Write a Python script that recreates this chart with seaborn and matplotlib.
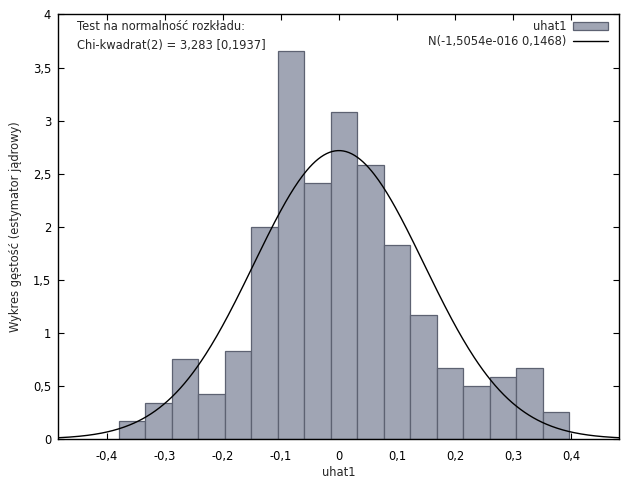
import numpy as np
import pandas as pd
import matplotlib
matplotlib.use("Agg")
import matplotlib.pyplot as plt
import seaborn as sns
from matplotlib.patches import Patch
from matplotlib.lines import Line2D

# ---- data ----
bin_start = -0.3793
bin_width = 0.0457
densities = [0.17, 0.34, 0.75, 0.42, 0.83, 2.00, 3.66, 2.41, 3.08, 2.58,
             1.83, 1.17, 0.67, 0.50, 0.58, 0.67, 0.25]
norm_mean = -1.5054e-16
norm_sd = 0.1468
x_ticks = [-0.4, -0.3, -0.2, -0.1, 0.0, 0.1, 0.2, 0.3, 0.4]
x_tick_labels = ["-0,4", "-0,3", "-0,2", "-0,1", "0", "0,1", "0,2", "0,3", "0,4"]
y_ticks = [0, 0.5, 1, 1.5, 2, 2.5, 3, 3.5, 4]
y_tick_labels = ["0", "0,5", "1", "1,5", "2", "2,5", "3", "3,5", "4"]
legend_labels = ["uhat1", "N(-1,5054e-016 0,1468)"]
annotation = "Test na normalność rozkładu:\nChi-kwadrat(2) = 3,283 [0,1937]"
xlabel = "uhat1"
ylabel = "Wykres gęstość (estymator jądrowy)"

sns.set_style("white")
plt.rcParams['font.family'] = ['DejaVu Sans']

n = len(densities)
edges = [float(bin_start + bin_width * i) for i in range(n + 1)]
centers = [(edges[i] + edges[i + 1]) / 2 for i in range(n)]
df = pd.DataFrame({"x": centers, "w": densities})

xlim = (-0.4845, 0.483)
fs = 8.3

fig = plt.figure(figsize=(6.4, 4.8), dpi=100)
ax = fig.add_axes([0.0906, 0.0854, 0.8766, 0.8844])

bar_face = "#a0a5b4"
bar_edge = "#5d6272"
sns.histplot(data=df, x="x", weights="w", bins=edges, stat="count",
             color=bar_face, edgecolor=bar_edge, linewidth=0.9, alpha=1.0, ax=ax)

xs = np.linspace(xlim[0], xlim[1], 400)
pdf = np.exp(-0.5 * ((xs - norm_mean) / norm_sd) ** 2) / (norm_sd * np.sqrt(2 * np.pi))
sns.lineplot(x=xs, y=pdf, color="black", linewidth=1.0, ax=ax)

ax.set_xlim(*xlim)
ax.set_ylim(0, 4)
ax.set_xticks(x_ticks)
ax.set_xticklabels(x_tick_labels)
ax.set_yticks(y_ticks)
ax.set_yticklabels(y_tick_labels)
ax.tick_params(direction="in", length=4, width=0.8, labelsize=fs,
               top=True, right=True, bottom=True, left=True, pad=8, colors="black")
ax.tick_params(axis="y", pad=5)
for s in ax.spines.values():
    s.set_color("black")
    s.set_linewidth(1.0)

ax.set_xlabel(xlabel, fontsize=fs, labelpad=2)
ax.set_ylabel(ylabel, fontsize=fs, labelpad=8)

ax.text(0.034, 0.986, annotation, transform=ax.transAxes, fontsize=fs,
        va="top", ha="left", linespacing=1.55)

handles = [Patch(facecolor=bar_face, edgecolor=bar_edge, linewidth=0.9),
           Line2D([0], [0], color="black", linewidth=1.0)]
leg = ax.legend(handles, legend_labels, loc="upper right", frameon=False,
                markerfirst=False, fontsize=fs, handlelength=3.0, handleheight=0.7,
                labelspacing=0.12, borderaxespad=0.1, handletextpad=0.6,
                bbox_to_anchor=(0.99, 1.0))

fig.savefig("out.png", dpi=100)
